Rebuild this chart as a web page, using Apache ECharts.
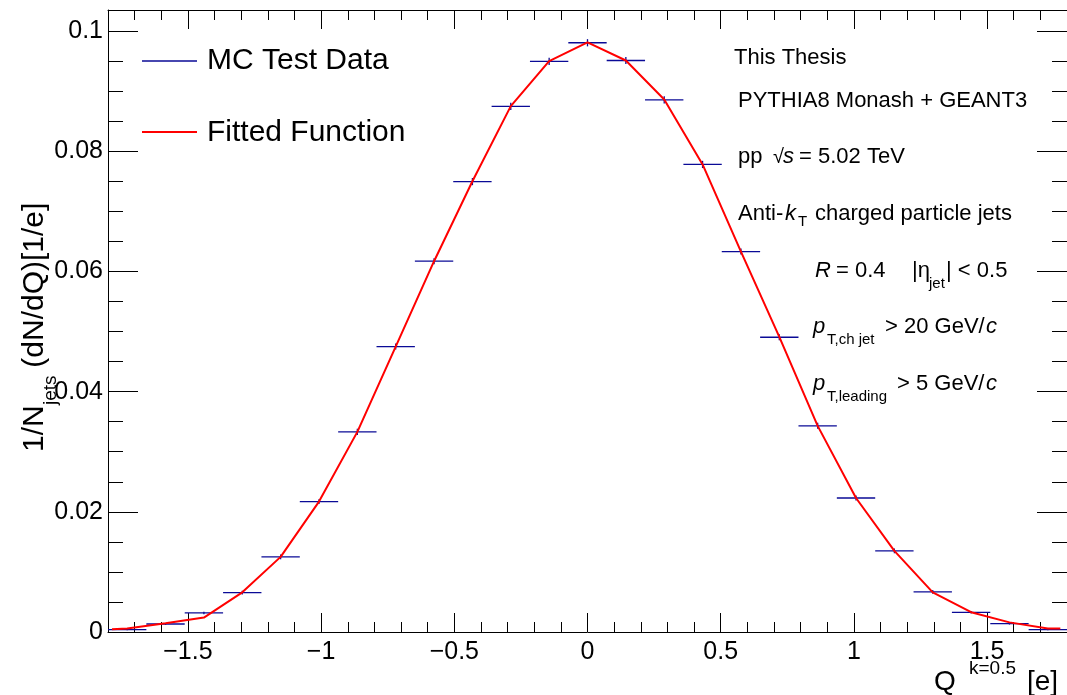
<!DOCTYPE html>
<html>
<head>
<meta charset="utf-8">
<script src="https://cdn.jsdelivr.net/npm/echarts@6/dist/echarts.min.js"></script>
<style>
  html, body { margin: 0; padding: 0; background: #fff; }
  #chart { width: 1067px; height: 695px; }
</style>
</head>
<body>
<div id="chart"></div>
<script>
// Jet charge Q^{k=0.5}: MC histogram (25 bins on [-1.8, 1.8]) with the fitted curve.
const binCenters = [-1.728, -1.584, -1.44, -1.296, -1.152, -1.008, -0.864, -0.72, -0.576, -0.432,
  -0.288, -0.144, 0, 0.144, 0.288, 0.432, 0.576, 0.72, 0.864, 1.008, 1.152, 1.296, 1.44, 1.584, 1.728];
const binWidth = 0.144;
const mcValues = [0.0004, 0.00133, 0.00317, 0.00655, 0.0125, 0.0217, 0.0333, 0.0475, 0.0617, 0.07495,
  0.08745, 0.09495, 0.09805, 0.0951, 0.08855, 0.0778, 0.0633, 0.04905, 0.0343, 0.0223, 0.0135, 0.00667,
  0.00328, 0.00139, 0.00039];
const mcErrors = [0.0001, 0.00015, 0.0002, 0.0003, 0.0004, 0.0004, 0.0005, 0.0005, 0.0005, 0.0006,
  0.0006, 0.0006, 0.0006, 0.0006, 0.0006, 0.0006, 0.0005, 0.0005, 0.0005, 0.0004, 0.0004, 0.0003,
  0.0002, 0.00015, 0.0001];
const fitQ = [-1.785, -1.728, -1.584, -1.44, -1.296, -1.152, -1.008, -0.864, -0.72, -0.576, -0.432,
  -0.288, -0.144, 0, 0.144, 0.288, 0.432, 0.576, 0.72, 0.864, 1.008, 1.152, 1.296, 1.44, 1.584, 1.728, 1.775];
const fitValues = [0.00045, 0.0006, 0.00145, 0.0024, 0.0066, 0.0125, 0.0217, 0.0333, 0.0475, 0.0617,
  0.0750, 0.0875, 0.0950, 0.0981, 0.0951, 0.0886, 0.0778, 0.0633, 0.0491, 0.0343, 0.0223, 0.0135,
  0.0066, 0.0033, 0.0016, 0.0006, 0.0006];
const xMajorTicks = [-1.5, -1, -0.5, 0, 0.5, 1, 1.5];
const yMajorTicks = [0, 0.02, 0.04, 0.06, 0.08, 0.1];

const X_MIN = -1.8, X_MAX = 1.8, Y_MIN = 0, Y_MAX = 0.1035;
const FONT = '"Liberation Sans", Arial, Helvetica, sans-serif';
const BLUE = '#0a0a96';
const RED = '#ff0000';

// minor tick positions (every 0.1 on x, every 0.005 on y)
const xMinorTicks = [];
for (let i = -18; i <= 18; i++) xMinorTicks.push(+(i * 0.1).toFixed(2));
const yMinorTicks = [];
for (let i = 0; i <= 20; i++) yMinorTicks.push(+(i * 0.005).toFixed(3));

const fmtX = v => String(+v.toFixed(2)).replace('-', '\u2212');
const fmtY = v => String(+v.toFixed(3));

function xAxisDef(gridIndex, position, ticks, len, withLabels) {
  return {
    type: 'value', gridIndex, position, min: X_MIN, max: X_MAX,
    axisLine: { show: gridIndex === 0, onZero: false, lineStyle: { color: '#000', width: 1 } },
    axisTick: { show: true, inside: true, length: len, customValues: ticks,
      lineStyle: { color: '#000', width: 1 } },
    axisLabel: withLabels ? { show: true, customValues: xMajorTicks, formatter: fmtX,
      fontSize: 25, color: '#000', fontFamily: FONT, margin: 8 } : { show: false },
    splitLine: { show: false }
  };
}
function yAxisDef(gridIndex, position, ticks, len, withLabels) {
  return {
    type: 'value', gridIndex, position, min: Y_MIN, max: Y_MAX,
    axisLine: { show: gridIndex === 0, onZero: false, lineStyle: { color: '#000', width: 1 } },
    axisTick: { show: true, inside: true, length: len, customValues: ticks,
      lineStyle: { color: '#000', width: 1 } },
    axisLabel: withLabels ? { show: true, customValues: yMajorTicks, formatter: fmtY,
      fontSize: 25, color: '#000', fontFamily: FONT, margin: 5 } : { show: false },
    splitLine: { show: false }
  };
}

const gridBox = { left: 108, right: -3, top: 10, bottom: 63, containLabel: false };

const histData = binCenters.map((c, i) => [c, mcValues[i], mcErrors[i]]);
const fitData = fitQ.map((q, i) => [q, fitValues[i]]);

function txt(x, y, text, size, italic) {
  return {
    type: 'text', x, y, silent: true,
    style: { text, fontSize: size, fontFamily: FONT, fill: '#000',
      align: 'left', verticalAlign: 'middle', fontStyle: italic ? 'italic' : 'normal' }
  };
}

const graphics = [
  // legend
  { type: 'line', shape: { x1: 142, y1: 61, x2: 197, y2: 61 }, style: { stroke: BLUE, lineWidth: 1.3 } },
  txt(207, 61, 'MC Test Data', 30),
  { type: 'line', shape: { x1: 142, y1: 132, x2: 197, y2: 132 }, style: { stroke: RED, lineWidth: 2 } },
  txt(207, 133, 'Fitted Function', 30),

  // labels block
  txt(734, 58, 'This Thesis', 22),
  txt(738, 101, 'PYTHIA8 Monash + GEANT3', 22),
  txt(738, 157, 'pp', 22),
  txt(773, 157, '\u221A', 20),
  txt(783, 157, 's', 22, true),
  txt(799, 157, '= 5.02 TeV', 22),
  txt(738, 214, 'Anti-', 22),
  txt(785, 214, 'k', 22, true),
  txt(798, 222, 'T', 15),
  txt(815, 214, 'charged particle jets', 22),
  txt(815, 271, 'R', 22, true),
  txt(836, 271, '= 0.4', 22),
  txt(912, 271, '|\u03B7', 22),
  txt(929, 284, 'jet', 15),
  txt(946, 271, '| < 0.5', 22),
  txt(813, 327, 'p', 22, true),
  txt(827, 340, 'T,ch jet', 15),
  txt(885, 327, '> 20 GeV/', 22),
  txt(986, 327, 'c', 22, true),
  txt(813, 384, 'p', 22, true),
  txt(827, 397, 'T,leading', 15),
  txt(897, 384, '> 5 GeV/', 22),
  txt(986, 384, 'c', 22, true),

  // x axis title
  txt(934, 682, 'Q', 28),
  txt(969, 669, 'k=0.5', 19),
  txt(1027, 682, '[e]', 28),

  // y axis title, written bottom-to-top
  {
    type: 'group', x: 35, y: 452, rotation: Math.PI / 2, silent: true,
    children: [
      txt(0, 0, '1/N', 30),
      txt(47, 16, 'jets', 19),
      txt(76, 0, ' (dN/dQ)[1/e]', 30)
    ]
  }
];

const chart = echarts.init(document.getElementById('chart'), null, { renderer: 'canvas' });
chart.setOption({
  animation: false,
  backgroundColor: '#fff',
  grid: [Object.assign({}, gridBox), Object.assign({}, gridBox)],
  xAxis: [
    xAxisDef(0, 'bottom', xMajorTicks, 19, true),
    xAxisDef(0, 'top', xMajorTicks, 19, false),
    xAxisDef(1, 'bottom', xMinorTicks, 10, false),
    xAxisDef(1, 'top', xMinorTicks, 10, false)
  ],
  yAxis: [
    yAxisDef(0, 'left', yMajorTicks, 30, true),
    yAxisDef(0, 'right', yMajorTicks, 30, false),
    yAxisDef(1, 'left', yMinorTicks, 15, false),
    yAxisDef(1, 'right', yMinorTicks, 15, false)
  ],
  series: [
    {
      name: 'MC Test Data', type: 'custom', xAxisIndex: 0, yAxisIndex: 0,
      data: histData, encode: { x: 0, y: 1 }, z: 2, clip: true,
      renderItem(params, api) {
        const c = api.value(0), v = api.value(1), e = api.value(2);
        const a = api.coord([c - binWidth / 2, v]);
        const b = api.coord([c + binWidth / 2, v]);
        const up = api.coord([c, v + e]);
        const dn = api.coord([c, v - e]);
        return {
          type: 'group',
          children: [
            { type: 'line', shape: { x1: a[0], y1: a[1], x2: b[0], y2: b[1] },
              style: { stroke: BLUE, lineWidth: 1.3 } },
            { type: 'line', shape: { x1: up[0], y1: up[1], x2: dn[0], y2: dn[1] },
              style: { stroke: BLUE, lineWidth: 1.3 } }
          ]
        };
      }
    },
    {
      name: 'Fitted Function', type: 'line', xAxisIndex: 0, yAxisIndex: 0,
      data: fitData, showSymbol: false, symbol: 'none', smooth: false, z: 3,
      lineStyle: { color: RED, width: 2 }
    }
  ],
  graphic: graphics
});
</script>
</body>
</html>
